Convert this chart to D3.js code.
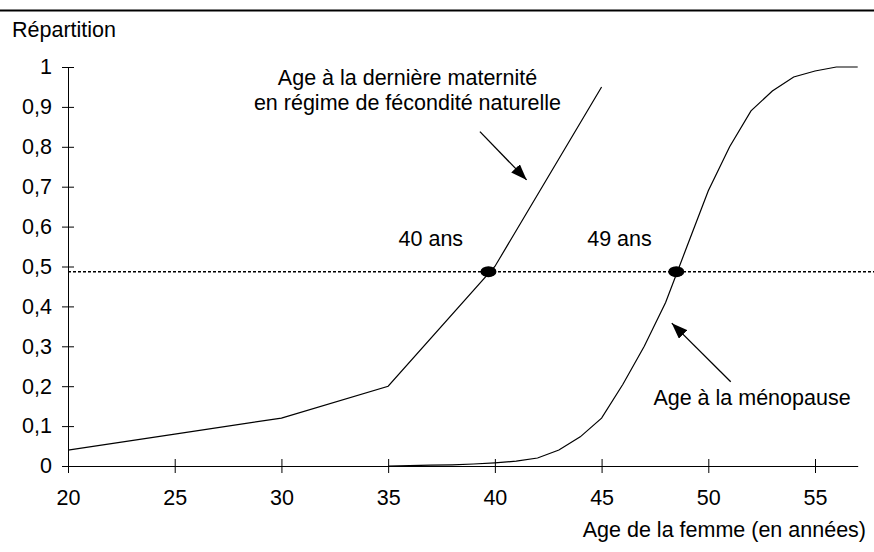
<!DOCTYPE html>
<html>
<head>
<meta charset="utf-8">
<script src="https://cdn.jsdelivr.net/npm/d3@7"></script>
<style>
  html, body { margin: 0; padding: 0; background: #fff; }
  svg text { font-family: "Liberation Sans", Arial, Helvetica, sans-serif; fill: #000; }
</style>
</head>
<body>
<svg id="chart" width="874" height="552"></svg>
<script>
// ---- Data ----
const xTicks = [20, 25, 30, 35, 40, 45, 50, 55];
const yTicks = [0, 0.1, 0.2, 0.3, 0.4, 0.5, 0.6, 0.7, 0.8, 0.9, 1];
const yTickLabels = ["0", "0,1", "0,2", "0,3", "0,4", "0,5", "0,6", "0,7", "0,8", "0,9", "1"];

// Age at last birth (natural fertility)
const maternityAges   = [20, 25, 30, 35, 40, 45];
const maternityValues = [0.04, 0.08, 0.12, 0.20, 0.50, 0.95];

// Age at menopause
const menopauseAges   = [35, 36, 37, 38, 39, 40, 41, 42, 43, 44, 45, 46, 47, 48, 49, 50, 51, 52, 53, 54, 55, 56, 57];
const menopauseValues = [0, 0.001, 0.002, 0.003, 0.005, 0.008, 0.012, 0.02, 0.04, 0.073, 0.12, 0.205, 0.30, 0.41, 0.55, 0.69, 0.80, 0.89, 0.94, 0.975, 0.99, 1.0, 1.0];

// Median reference line and markers
const medianLevel = 0.487;
const medianLineAges = [20, 57.8];
const medianAges = [39.7, 48.5];
const medianLabels = ["40 ans", "49 ans"];

// ---- Layout ----
const svg = d3.select("#chart");
const W = 874;
const x = d3.scaleLinear().domain([20, 57]).range([68, 857.7]);
const y = d3.scaleLinear().domain([0, 1]).range([466, 67]);
const FS = 21.5;

// top rule
svg.append("line").attr("x1", 0).attr("x2", W).attr("y1", 10.5).attr("y2", 10.5)
  .attr("stroke", "#000").attr("stroke-width", 2.2);

svg.append("text").attr("x", 12).attr("y", 37).attr("font-size", FS).text("Répartition");

// arrow marker
const defs = svg.append("defs");
defs.append("marker").attr("id", "arrow")
  .attr("markerUnits", "userSpaceOnUse")
  .attr("viewBox", "0 0 16 12").attr("refX", 16).attr("refY", 6)
  .attr("markerWidth", 16).attr("markerHeight", 12).attr("orient", "auto")
  .append("path").attr("d", "M0,0 L16,6 L0,12 Z").attr("fill", "#000");

// Y axis
const yAxis = d3.axisLeft(y).tickValues(yTicks)
  .tickFormat((d, i) => yTickLabels[i]).tickSizeInner(6).tickSizeOuter(0).tickPadding(10);
const gy = svg.append("g").attr("transform", `translate(${x(20)},0)`).call(yAxis);
gy.selectAll(".tick line").attr("x2", -6).attr("x1", 6).attr("stroke", "#000");
gy.select(".domain").attr("stroke", "#000");
gy.selectAll(".tick text").attr("font-size", FS).attr("font-family", "Liberation Sans, Arial, sans-serif").attr("fill", "#000");

// X axis
const xAxis = d3.axisBottom(x).tickValues(xTicks).tickFormat(d3.format("d"))
  .tickSizeInner(7).tickSizeOuter(0).tickPadding(17);
const gx = svg.append("g").attr("transform", `translate(0,${y(0)})`).call(xAxis);
gx.selectAll(".tick line").attr("y1", -7).attr("y2", 7).attr("stroke", "#000");
gx.select(".domain").attr("stroke", "#000");
gx.selectAll(".tick text").attr("font-size", FS).attr("font-family", "Liberation Sans, Arial, sans-serif").attr("fill", "#000");

svg.append("text").attr("x", 866).attr("y", 537).attr("text-anchor", "end")
  .attr("font-size", FS).text("Age de la femme (en années)");

// median dotted line
svg.append("line")
  .attr("x1", x(medianLineAges[0])).attr("x2", x(medianLineAges[1]))
  .attr("y1", y(medianLevel)).attr("y2", y(medianLevel))
  .attr("stroke", "#000").attr("stroke-width", 1.6).attr("stroke-dasharray", "3,2");

// curves
const line = d3.line().x(d => x(d[0])).y(d => y(d[1]));
svg.append("path").datum(maternityAges.map((a, i) => [a, maternityValues[i]]))
  .attr("d", line).attr("fill", "none").attr("stroke", "#000").attr("stroke-width", 1.2);
svg.append("path").datum(menopauseAges.map((a, i) => [a, menopauseValues[i]]))
  .attr("d", line).attr("fill", "none").attr("stroke", "#000").attr("stroke-width", 1.2);

// median dots
svg.selectAll("ellipse.med").data(medianAges).enter().append("ellipse")
  .attr("cx", d => x(d)).attr("cy", y(medianLevel)).attr("rx", 8).attr("ry", 5.5).attr("fill", "#000");

// median labels
const labelPos = [{age: 37.0, v: 0.552}, {age: 45.84, v: 0.552}];
svg.selectAll("text.med").data(medianLabels).enter().append("text")
  .attr("x", (d, i) => x(labelPos[i].age)).attr("y", (d, i) => y(labelPos[i].v))
  .attr("text-anchor", "middle").attr("font-size", FS).text(d => d);

// annotation: maternity
svg.append("text").attr("x", 407.5).attr("y", 85).attr("text-anchor", "middle")
  .attr("font-size", FS).text("Age à la dernière maternité");
svg.append("text").attr("x", 407.5).attr("y", 110).attr("text-anchor", "middle")
  .attr("font-size", FS).text("en régime de fécondité naturelle");
svg.append("line")
  .attr("x1", x(39.30)).attr("y1", y(0.838)).attr("x2", x(41.49)).attr("y2", y(0.717))
  .attr("stroke", "#000").attr("stroke-width", 1.3).attr("marker-end", "url(#arrow)");

// annotation: menopause
svg.append("text").attr("x", 752).attr("y", 405).attr("text-anchor", "middle")
  .attr("font-size", FS).text("Age à la ménopause");
svg.append("line")
  .attr("x1", x(51.05)).attr("y1", y(0.211)).attr("x2", x(48.29)).attr("y2", y(0.358))
  .attr("stroke", "#000").attr("stroke-width", 1.3).attr("marker-end", "url(#arrow)");
</script>
</body>
</html>
